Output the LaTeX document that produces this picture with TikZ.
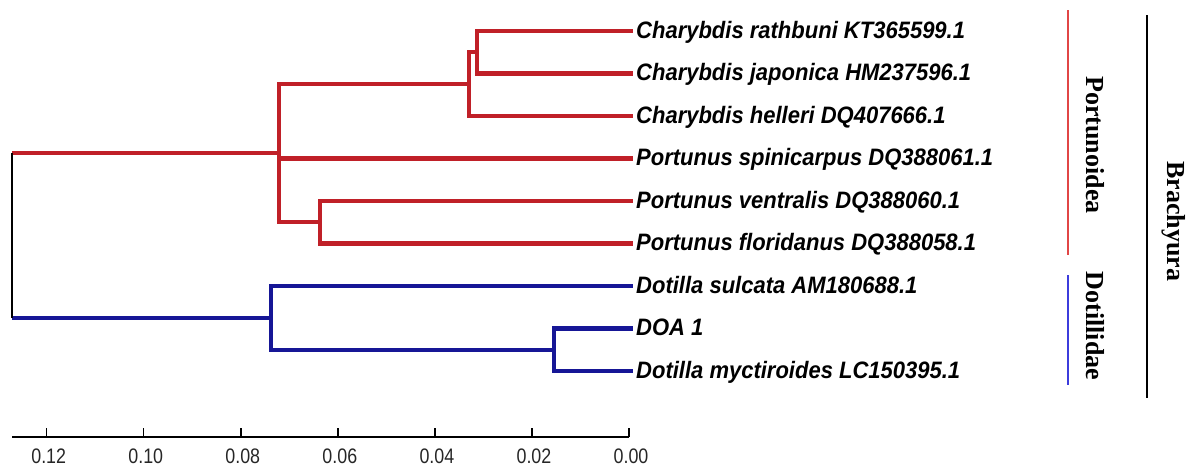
\documentclass[tikz,border=0pt]{standalone}
\usepackage{fontspec}
\setmainfont{Liberation Serif}
\setsansfont{Liberation Sans}
\definecolor{brred}{RGB}{192,32,40}
\definecolor{brblue}{RGB}{22,22,150}
\definecolor{grpred}{RGB}{225,70,70}
\definecolor{grpblue}{RGB}{60,60,220}
\newcommand{\tallleaf}[1]{\scalebox{1}[1.08]{#1}}
\begin{document}
\begin{tikzpicture}[x=1pt,y=-1pt,
  redbr/.style={draw=brred,line width=4.3pt,line join=miter},
  bluebr/.style={draw=brblue,line width=4.3pt,line join=miter},
  rootline/.style={draw=black,line width=1.5pt},
  leaf/.style={anchor=base west,inner sep=0pt,font=\fontsize{22}{24}\selectfont\sffamily\bfseries\itshape},
  grp/.style={rotate=-90,inner sep=0pt,font=\fontsize{26}{28}\selectfont\rmfamily\bfseries},
  ticklab/.style={anchor=base,inner sep=0pt,text=black!85,font=\fontsize{21}{23}\selectfont\sffamily},
  axisline/.style={draw=black,line width=1.4pt}]
\useasboundingbox (0,0) rectangle (1186,467);

% leaf tips
\coordinate (t1) at (633,31);
\coordinate (t2) at (633,73.5);
\coordinate (t3) at (633,116);
\coordinate (t4) at (633,158.5);
\coordinate (t5) at (633,201);
\coordinate (t6) at (633,243.5);
\coordinate (t7) at (633,286);
\coordinate (t8) at (633,328.5);
\coordinate (t9) at (633,371);

% internal nodes
\coordinate (A) at (477,52.25);
\coordinate (B) at (469,84.1);
\coordinate (C) at (320,222.25);
\coordinate (D) at (279,153.1);
\coordinate (E) at (554,349.75);
\coordinate (F) at (271,318);
\coordinate (Rt) at (12,153.1);
\coordinate (Rb) at (12,318);

% labels
\node[leaf] (l1) at (636,38) {\tallleaf{Charybdis rathbuni KT365599.1}};
\node[leaf] (l2) at (636,80.5) {\tallleaf{Charybdis japonica HM237596.1}};
\node[leaf] (l3) at (636,123) {\tallleaf{Charybdis helleri DQ407666.1}};
\node[leaf] (l4) at (636,165.5) {\tallleaf{Portunus spinicarpus DQ388061.1}};
\node[leaf] (l5) at (636,208) {\tallleaf{Portunus ventralis DQ388060.1}};
\node[leaf] (l6) at (636,250.5) {\tallleaf{Portunus floridanus DQ388058.1}};
\node[leaf] (l7) at (636,293) {\tallleaf{Dotilla sulcata AM180688.1}};
\node[leaf] (l8) at (636,335.5) {\tallleaf{DOA 1}};
\node[leaf] (l9) at (636,378) {\tallleaf{Dotilla myctiroides LC150395.1}};

% red clade
\draw[redbr] (A) |- (t1);
\draw[redbr] (A) |- (t2);
\draw[redbr] (B) |- (A);
\draw[redbr] (B) |- (t3);
\draw[redbr] (D) |- (B);
\draw[redbr] (D) |- (t4);
\draw[redbr] (D) |- (C);
\draw[redbr] (C) |- (t5);
\draw[redbr] (C) |- (t6);
\draw[redbr] (Rt) -- (D);

% blue clade
\draw[bluebr] (E) |- (t8);
\draw[bluebr] (E) |- (t9);
\draw[bluebr] (F) |- (E);
\draw[bluebr] (F) |- (t7);
\draw[bluebr] (Rb) -- (F);

% root
\draw[rootline] (Rt) -- (Rb);

% group bars
\coordinate (pr1) at (1068,10);
\coordinate (pr2) at (1068,255);
\coordinate (db1) at (1068,275);
\coordinate (db2) at (1068,385);
\coordinate (br1) at (1147,15);
\coordinate (br2) at (1147,398);
\draw[draw=grpred,line width=2.4pt] (pr1) -- (pr2);
\draw[draw=grpblue,line width=2.8pt] (db1) -- (db2);
\draw[draw=black,line width=2.8pt] (br1) -- (br2);
\node[grp] (gP) at (1095,145) {Portunoidea};
\node[grp] (gD) at (1095,326) {Dotillidae};
\node[grp] (gB) at (1174,221.5) {Brachyura};

% scale axis
\coordinate (ax0) at (12,437);
\coordinate (ax1) at (629,437);
\draw[axisline] (ax0) -- (ax1);
\foreach \k/\lab in {0/0.00,1/0.02,2/0.04,3/0.06,4/0.08,5/0.10,6/0.12}{
  \coordinate (tk\k) at ({629-97.05*\k},437);
  \draw[axisline] (tk\k) -- ++(0,-9);
  \node[ticklab] (tl\k) at ({629-97.05*\k+2},463) {\scalebox{0.85}[1]{\lab}};
}
\end{tikzpicture}
\end{document}
